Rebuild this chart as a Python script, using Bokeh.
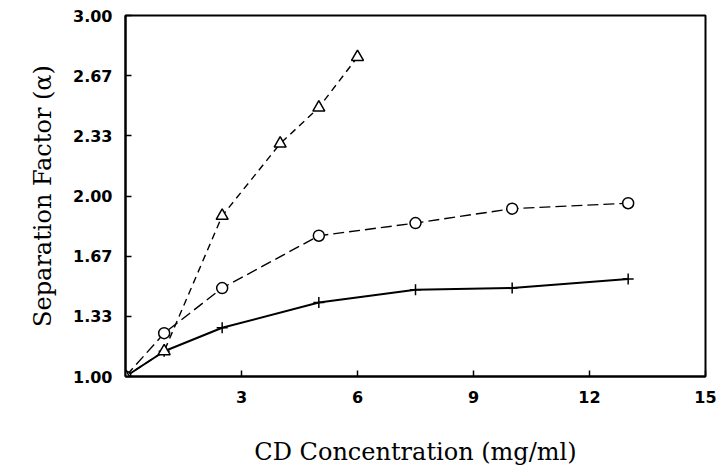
from bokeh.plotting import figure
from bokeh.models import FixedTicker, Range1d
from bokeh.embed import file_html
from bokeh.resources import INLINE

# --- data ---
x_plus = [0, 1, 2.5, 5, 7.5, 10, 13]
y_plus = [1.00, 1.14, 1.27, 1.41, 1.48, 1.49, 1.54]

x_circle = [0, 1, 2.5, 5, 7.5, 10, 13]
y_circle = [1.00, 1.24, 1.49, 1.78, 1.85, 1.93, 1.96]

x_tri = [0, 1, 2.5, 4, 5, 6]
y_tri = [1.00, 1.14, 1.89, 2.29, 2.49, 2.77]

x_ticks = [3, 6, 9, 12, 15]
y_ticks = [1.0, 4 / 3, 5 / 3, 2.0, 7 / 3, 8 / 3, 3.0]
y_tick_labels = ["1.00", "1.33", "1.67", "2.00", "2.33", "2.67", "3.00"]

p = figure(width=717, height=469, output_backend="svg", toolbar_location=None,
           x_range=Range1d(0, 15), y_range=Range1d(1.0, 3.0))
p.min_border_left = 125
p.min_border_right = 12
p.min_border_top = 15
p.min_border_bottom = 93
p.background_fill_color = "white"
p.border_fill_color = "white"
p.grid.visible = False
p.outline_line_color = "black"
p.outline_line_width = 2

for ax in (p.xaxis[0], p.yaxis[0]):
    ax.axis_line_width = 2
    ax.axis_line_color = "black"
    ax.major_tick_in = 6
    ax.major_tick_out = 0
    ax.major_tick_line_width = 1.5
    ax.minor_tick_line_color = None
    ax.major_label_text_font = "DejaVu Sans"
    ax.major_label_text_font_style = "bold"
    ax.major_label_text_font_size = "16px"
    ax.major_label_text_color = "black"
    ax.axis_label_text_font = "DejaVu Serif"
    ax.axis_label_text_font_style = "normal"
    ax.axis_label_text_font_size = "24px"
    ax.axis_label_text_color = "black"

p.xaxis.ticker = FixedTicker(ticks=x_ticks)
p.yaxis.ticker = FixedTicker(ticks=y_ticks)
p.yaxis.major_label_overrides = {v: s for v, s in zip(y_ticks, y_tick_labels)}
p.xaxis.major_label_standoff = 14
p.yaxis.major_label_standoff = 13
p.xaxis.axis_label = "CD Concentration (mg/ml)"
p.yaxis.axis_label = "Separation Factor (α)"
p.xaxis.axis_label_standoff = 32
p.yaxis.axis_label_standoff = 13

# lines
p.line(x_plus, y_plus, line_color="black", line_width=2)
p.line(x_circle, y_circle, line_color="black", line_width=1.4, line_dash="11 5")
p.line(x_tri, y_tri, line_color="black", line_width=1.4, line_dash="7 5")

# markers
p.scatter(x_plus, y_plus, marker="cross", size=11, line_color="black", line_width=1.5)
p.scatter(x_circle, y_circle, marker="circle", size=11, line_color="black",
          fill_color="white", line_width=1.5)
p.scatter(x_tri, y_tri, marker="triangle", size=12, line_color="black",
          fill_color="white", line_width=1.5)

open("out.html", "w").write(file_html(p, INLINE))
